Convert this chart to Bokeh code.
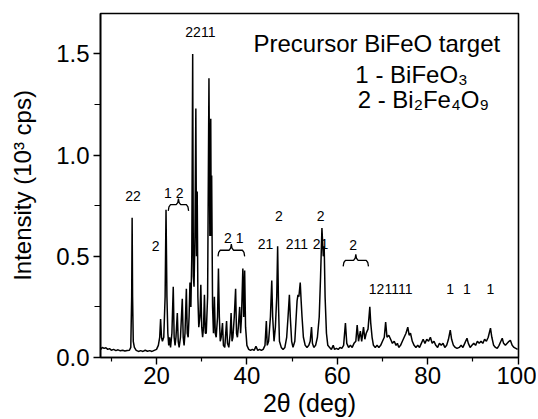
from bokeh.plotting import figure
from bokeh.models import Range1d, FixedTicker, Label, ColumnDataSource, NumeralTickFormatter
from bokeh.core.properties import value
from bokeh.embed import file_html
from bokeh.resources import INLINE

# ---- XRD pattern (2theta in deg, intensity in 10^3 cps) ----
two_theta = [
    7.6, 8.0, 8.4, 8.8, 9.2, 9.6, 10.0, 10.5, 11.0, 11.5, 12.0, 12.5, 13.0, 13.5, 14.0, 14.3,
    14.5, 14.6, 14.7, 14.85, 15.1, 15.5, 16.0, 16.5, 17.0, 17.5, 18.0, 18.5, 19.0, 19.5, 20.0,
    20.4, 20.7, 20.9, 21.1, 21.3, 21.6, 21.9, 22.1, 22.3, 22.5, 22.7, 22.9, 23.1, 23.4, 23.7,
    23.9, 24.1, 24.3, 24.6, 24.8, 25.0, 25.3, 25.7, 25.9, 26.1, 26.3, 26.6, 26.8, 27.0, 27.2,
    27.4, 27.6, 27.8, 28.0, 28.15, 28.3, 28.5, 28.7, 28.85, 29.0, 29.15, 29.35, 29.6, 29.8,
    30.0, 30.2, 30.4, 30.6, 30.8, 31.0, 31.3, 31.6, 31.8, 32.0, 32.1, 32.2, 32.4, 32.6, 32.8,
    33.0, 33.2, 33.5, 33.7, 33.9, 34.1, 34.3, 34.6, 34.8, 35.1, 35.5, 35.7, 36.0, 36.3, 36.5,
    36.7, 36.9, 37.2, 37.5, 37.7, 37.9, 38.1, 38.4, 38.6, 38.8, 39.1, 39.3, 39.5, 39.7, 40.0,
    40.4, 40.8, 41.2, 41.6, 42.0, 42.4, 42.8, 43.2, 43.6, 44.0, 44.3, 44.5, 44.8, 45.2, 45.5,
    45.7, 46.0, 46.3, 46.6, 46.8, 47.0, 47.2, 47.6, 48.0, 48.4, 48.8, 49.1, 49.4, 49.6, 49.9,
    50.2, 50.6, 50.9, 51.1, 51.3, 51.5, 51.8, 52.0, 52.2, 52.5, 52.9, 53.3, 53.7, 54.0, 54.3,
    54.5, 54.8, 55.2, 55.6, 56.0, 56.3, 56.6, 56.9, 57.1, 57.3, 57.6, 57.9, 58.3, 58.7, 59.1,
    59.4, 59.8, 60.2, 60.6, 61.0, 61.4, 61.8, 62.1, 62.5, 62.9, 63.3, 63.7, 64.1, 64.4, 64.7,
    65.1, 65.4, 65.8, 66.1, 66.4, 66.8, 67.2, 67.4, 67.7, 68.0, 68.4, 68.8, 69.2, 69.6, 70.0,
    70.4, 70.7, 71.0, 71.4, 71.8, 72.2, 72.6, 73.0, 73.3, 73.6, 74.0, 74.4, 74.8, 75.2, 75.6,
    75.9, 76.2, 76.6, 77.0, 77.4, 77.8, 78.2, 78.6, 79.0, 79.4, 79.8, 80.2, 80.6, 81.0, 81.4,
    81.8, 82.2, 82.6, 83.0, 83.4, 83.8, 84.2, 84.6, 85.0, 85.3, 85.7, 86.1, 86.5, 87.0, 87.4,
    87.8, 88.2, 88.7, 89.0, 89.4, 89.8, 90.2, 90.6, 91.0, 91.4, 91.8, 92.2, 92.6, 93.0, 93.4,
    93.9, 94.2, 94.6, 95.0, 95.4, 95.8, 96.2, 96.5, 96.8, 97.2, 97.6, 98.0, 98.3, 98.7, 99.1,
    99.5, 99.9,
]
intensity = [
    0.040, 0.050, 0.045, 0.048, 0.040, 0.044, 0.036, 0.040, 0.034, 0.038, 0.033, 0.036, 0.032, 0.035, 0.036, 0.050,
    0.300, 0.690, 0.300, 0.080, 0.050, 0.035, 0.030, 0.034, 0.030, 0.036, 0.031, 0.034, 0.030, 0.035, 0.040,
    0.060, 0.100, 0.190, 0.100, 0.080, 0.100, 0.300, 0.730, 0.300, 0.120, 0.060, 0.100, 0.050, 0.120, 0.350,
    0.100, 0.060, 0.100, 0.220, 0.080, 0.050, 0.100, 0.290, 0.100, 0.060, 0.120, 0.340, 0.120, 0.100, 0.200,
    0.370, 0.250, 0.500, 1.500, 0.400, 0.350, 0.600, 1.230, 0.500, 0.820, 0.300, 0.150, 0.200, 0.360,
    0.150, 0.100, 0.150, 0.310, 0.120, 0.120, 0.300, 1.380, 0.600, 1.180, 0.600, 0.900, 0.250, 0.120, 0.300,
    0.120, 0.100, 0.200, 0.440, 0.200, 0.080, 0.100, 0.170, 0.060, 0.050, 0.180, 0.070, 0.050, 0.120, 0.220,
    0.080, 0.100, 0.200, 0.340, 0.120, 0.100, 0.150, 0.250, 0.120, 0.200, 0.440, 0.200, 0.430, 0.150, 0.060,
    0.040, 0.035, 0.040, 0.035, 0.055, 0.035, 0.040, 0.035, 0.040, 0.060, 0.180, 0.060, 0.080, 0.200, 0.380,
    0.200, 0.080, 0.150, 0.300, 0.550, 0.250, 0.080, 0.050, 0.040, 0.050, 0.100, 0.200, 0.310, 0.200, 0.080,
    0.050, 0.080, 0.200, 0.280, 0.310, 0.300, 0.370, 0.280, 0.200, 0.100, 0.060, 0.050, 0.060, 0.080, 0.150,
    0.070, 0.050, 0.060, 0.100, 0.200, 0.400, 0.640, 0.500, 0.550, 0.300, 0.120, 0.060, 0.050, 0.040, 0.060,
    0.040, 0.045, 0.040, 0.050, 0.045, 0.060, 0.170, 0.070, 0.050, 0.060, 0.050, 0.070, 0.080, 0.160, 0.080,
    0.130, 0.080, 0.150, 0.090, 0.120, 0.140, 0.250, 0.170, 0.100, 0.060, 0.050, 0.060, 0.050, 0.060, 0.080,
    0.100, 0.175, 0.100, 0.110, 0.090, 0.070, 0.080, 0.060, 0.070, 0.050, 0.060, 0.080, 0.100, 0.120, 0.150,
    0.110, 0.120, 0.080, 0.060, 0.050, 0.060, 0.050, 0.070, 0.090, 0.070, 0.090, 0.080, 0.100, 0.070, 0.080,
    0.060, 0.050, 0.070, 0.060, 0.070, 0.050, 0.060, 0.090, 0.135, 0.090, 0.060, 0.050, 0.045, 0.050, 0.060,
    0.050, 0.070, 0.095, 0.070, 0.050, 0.060, 0.070, 0.060, 0.080, 0.070, 0.080, 0.070, 0.090, 0.080, 0.100,
    0.145, 0.100, 0.060, 0.050, 0.045, 0.060, 0.080, 0.095, 0.070, 0.060, 0.070, 0.080, 0.085, 0.060, 0.050,
    0.045, 0.040,
]

# ---- phase labels above peaks ----
label_x = [14.8, 23.8, 19.8, 29.7, 37.1, 44.1, 47.1, 51.05, 56.3, 56.3, 63.5, 71.8, 85.0, 88.7, 93.9]
label_y = [0.80, 0.815, 0.553, 1.61, 0.59, 0.56, 0.70, 0.56, 0.56, 0.70, 0.555, 0.34, 0.34, 0.34, 0.34]
label_text = ["22", "1 2", "2", "2211", "2 1", "21", "2", "211", "21", "2", "2", "121111", "1", "1", "1"]

# ---- curly braces grouping peaks (start, end, level) ----
brace_start = [22.6, 33.6, 61.3]
brace_end = [27.1, 39.5, 66.9]
brace_level = [0.755, 0.53, 0.48]

# ---- x / y ticks ----
x_ticks = [20, 40, 60, 80, 100]
x_minor = [10, 30, 50, 70, 90]
y_ticks = [0.0, 0.5, 1.0, 1.5]
y_minor = [0.25, 0.75, 1.25]

FONT = "Liberation Sans"

p = figure(width=536, height=419, output_backend="svg", toolbar_location=None,
           x_range=Range1d(7.6, 100.1), y_range=Range1d(0, 1.70),
           min_border_left=100, min_border_right=18, min_border_top=13, min_border_bottom=62)
p.background_fill_color = "white"
p.border_fill_color = "white"
p.outline_line_color = "black"
p.outline_line_width = 1.6
p.xgrid.visible = False
p.ygrid.visible = False

# spectrum
p.line(two_theta, intensity, line_color="black", line_width=1.5)

# braces
bx, by = [], []
for x0, x1, yl in zip(brace_start, brace_end, brace_level):
    m = 0.5 * (x0 + x1)
    d = 0.03
    xs = [x0, x0 + 0.15, x0 + 0.5, m - 0.5, m - 0.15, m, m + 0.15, m + 0.5, x1 - 0.5, x1 - 0.15, x1]
    ys = [yl - d, yl - d * 0.35, yl, yl, yl + d * 0.35, yl + d, yl + d * 0.35, yl, yl, yl - d * 0.35, yl - d]
    bx.append(xs)
    by.append(ys)
p.multi_line(bx, by, line_color="black", line_width=1.3)

# peak labels
src = ColumnDataSource(dict(x=label_x, y=label_y, t=label_text))
p.text(x="x", y="y", text="t", source=src, text_font=value(FONT), text_font_size="14px",
       text_align="center", text_baseline="middle", text_color="black")

# legend-like texts
p.add_layout(Label(x=41.45, y=1.553, text="Precursor BiFeO target", text_font=FONT,
                   text_font_size="24px", text_align="left", text_baseline="middle", text_color="black"))
p.add_layout(Label(x=64.0, y=1.40, text="1 - BiFeO\u2083", text_font=FONT,
                   text_font_size="24px", text_align="left", text_baseline="middle", text_color="black"))
p.add_layout(Label(x=64.5, y=1.275, text="2 - Bi\u2082Fe\u2084O\u2089", text_font=FONT,
                   text_font_size="24px", text_align="left", text_baseline="middle", text_color="black"))

# x axis
xa = p.xaxis[0]
xa.ticker = FixedTicker(ticks=x_ticks, minor_ticks=x_minor)
xa.major_label_text_font = FONT
xa.major_label_text_font_size = "24px"
xa.major_label_text_color = "black"
xa.major_label_standoff = 2
xa.major_tick_in = 0
xa.major_tick_out = 7
xa.minor_tick_in = 0
xa.minor_tick_out = 4
xa.axis_line_color = "black"
xa.major_tick_line_color = "black"
xa.minor_tick_line_color = "black"
xa.axis_line_width = 1.6
xa.major_tick_line_width = 1.4
xa.minor_tick_line_width = 1.2
xa.axis_label = "2\u03b8 (deg)"
xa.axis_label_text_font = FONT
xa.axis_label_text_font_size = "25px"
xa.axis_label_text_font_style = "normal"
xa.axis_label_text_color = "black"
xa.axis_label_standoff = 2

# y axis
ya = p.yaxis[0]
ya.ticker = FixedTicker(ticks=y_ticks, minor_ticks=y_minor)
ya.formatter = NumeralTickFormatter(format="0.0")
ya.major_label_text_font = FONT
ya.major_label_text_font_size = "24px"
ya.major_label_text_color = "black"
ya.major_label_standoff = 4
ya.major_tick_in = 0
ya.major_tick_out = 7
ya.minor_tick_in = 0
ya.minor_tick_out = 6
ya.axis_line_color = "black"
ya.major_tick_line_color = "black"
ya.minor_tick_line_color = "black"
ya.axis_line_width = 1.6
ya.major_tick_line_width = 1.4
ya.minor_tick_line_width = 1.2
ya.axis_label = "Intensity (10\u00b3 cps)"
ya.axis_label_text_font = FONT
ya.axis_label_text_font_size = "24px"
ya.axis_label_text_font_style = "normal"
ya.axis_label_text_color = "black"
ya.axis_label_standoff = 17

open("out.html", "w").write(file_html(p, INLINE))
